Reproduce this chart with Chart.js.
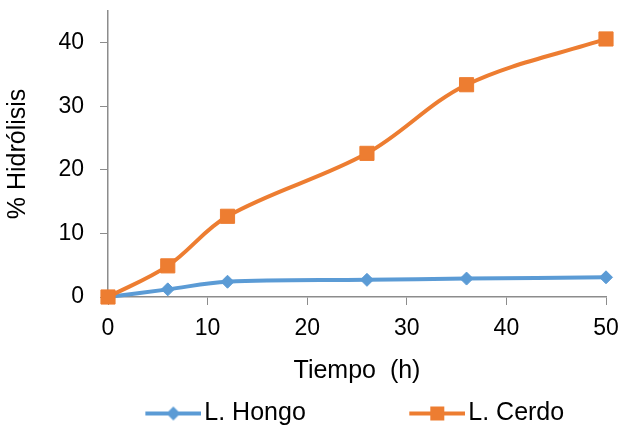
<!DOCTYPE html>
<html>
<head>
<meta charset="utf-8">
<script src="https://cdn.jsdelivr.net/npm/chart.js@4.4.1/dist/chart.umd.min.js"></script>
<style>
  html, body { margin: 0; padding: 0; background: #fff; }
</style>
</head>
<body>
<canvas id="chart" width="621" height="427"></canvas>
<script>
// data
const hours = [0, 6, 12, 26, 36, 50];
const hongo = [0, 1.2, 2.4, 2.7, 2.9, 3.1];
const cerdo = [0, 4.9, 12.7, 22.6, 33.4, 40.6];
const seriesNames = ['L. Hongo', 'L. Cerdo'];
const xTicks = [0, 10, 20, 30, 40, 50];
const yTicks = [0, 10, 20, 30, 40];

const blue = '#5B9BD5';
const orange = '#ED7D31';
const axisGray = '#8c8c8c';
const fontFamily = '"Liberation Sans", Arial, sans-serif';

// legend marker: line with the point symbol on it, drawn on the right part
// of a wider canvas so the gap between legend entries matches
const LEGEND_BOX = 150;
const LEGEND_FONT = 25;
function legendMarker(color, style) {
	const lineLen = 56;
	const off = LEGEND_BOX / 2 + LEGEND_FONT / 2 - 31;
	const c = document.createElement('canvas');
	c.width = 2 * off + lineLen;
	c.height = 16;
	const g = c.getContext('2d');
	g.strokeStyle = color;
	g.fillStyle = color;
	g.lineWidth = 4;
	g.beginPath();
	g.moveTo(2 * off, 8);
	g.lineTo(2 * off + lineLen, 8);
	g.stroke();
	const cx = 2 * off + lineLen / 2;
	g.beginPath();
	if (style === 'diamond') {
		g.moveTo(cx, 1); g.lineTo(cx + 7, 8); g.lineTo(cx, 15); g.lineTo(cx - 7, 8);
		g.closePath();
	} else {
		g.rect(cx - 7, 1, 14, 14);
	}
	g.fill();
	return c;
}
const markers = [legendMarker(blue, 'diamond'), legendMarker(orange, 'square')];

const toPoints = (xs, ys) => xs.map((x, i) => ({ x, y: ys[i] }));

new Chart(document.getElementById('chart').getContext('2d'), {
	type: 'line',
	data: {
		datasets: [{
			label: seriesNames[0],
			data: toPoints(hours, hongo),
			borderColor: blue,
			backgroundColor: blue,
			borderWidth: 4,
			pointStyle: 'rectRot',
			pointRadius: 6.5,
			pointBorderWidth: 1,
			tension: 0.35,
			clip: false,
			order: 1
		}, {
			label: seriesNames[1],
			data: toPoints(hours, cerdo),
			borderColor: orange,
			backgroundColor: orange,
			borderWidth: 4,
			pointStyle: 'rect',
			pointRadius: 10,
			pointBorderWidth: 1,
			tension: 0.35,
			clip: false,
			order: 0
		}]
	},
	options: {
		responsive: false,
		animation: false,
		layout: { padding: { top: 2, right: 15, bottom: -9, left: 0 } },
		plugins: {
			tooltip: { enabled: false },
			legend: {
				position: 'bottom',
				labels: {
					usePointStyle: true,
					pointStyleWidth: LEGEND_BOX,
					padding: 0,
					color: '#000',
					font: { family: fontFamily, size: LEGEND_FONT },
					sort: (a, b) => a.datasetIndex - b.datasetIndex,
					generateLabels: chart => Chart.defaults.plugins.legend.labels.generateLabels(chart)
						.map(item => ({ ...item, pointStyle: markers[item.datasetIndex] }))
				}
			}
		},
		scales: {
			x: {
				type: 'linear',
				min: 0,
				max: 50,
				afterBuildTicks: s => { s.ticks = xTicks.map(v => ({ value: v })); },
				afterFit: s => { s.height = 104; s.paddingLeft = 0; s.paddingRight = 0; },
				grid: { drawOnChartArea: false, tickLength: 8, tickColor: axisGray },
				border: { color: axisGray, width: 1.5 },
				ticks: { color: '#000', padding: 10, maxRotation: 0, font: { family: fontFamily, size: 23 } },
				title: {
					display: true,
					text: 'Tiempo  (h)',
					color: '#000',
					font: { family: fontFamily, size: 25 },
					padding: { top: 0, bottom: 15 }
				}
			},
			y: {
				min: 0,
				max: 45,
				afterBuildTicks: s => { s.ticks = yTicks.map(v => ({ value: v })); },
				afterFit: s => { s.width = 108; s.paddingTop = 0; s.paddingBottom = 0; },
				grid: { drawOnChartArea: false, tickLength: 8, tickColor: axisGray },
				border: { color: axisGray, width: 1.5 },
				ticks: { color: '#000', padding: 16, font: { family: fontFamily, size: 23 } },
				title: {
					display: true,
					text: '% Hidrólisis',
					color: '#000',
					font: { family: fontFamily, size: 25 },
					padding: { top: 3, bottom: 0 }
				}
			}
		}
	}
});
</script>
</body>
</html>
